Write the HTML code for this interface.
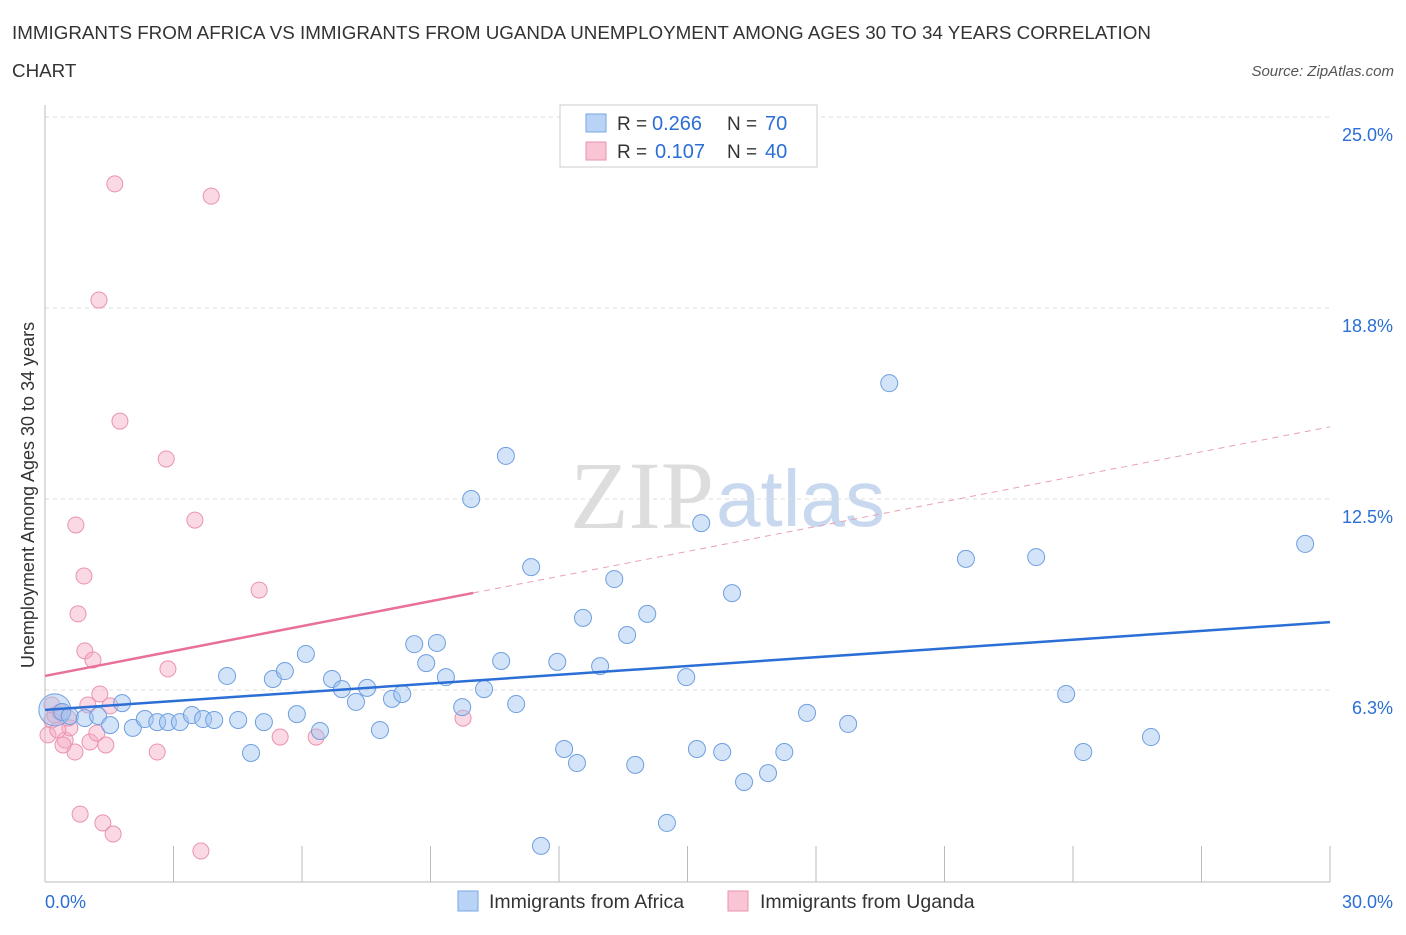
<!DOCTYPE html>
<html><head><meta charset="utf-8"><style>
body{margin:0;background:#fff;font-family:"Liberation Sans",sans-serif}
svg text{font-family:"Liberation Sans",sans-serif}
</style></head><body>
<svg id="c" width="1406" height="930" xmlns="http://www.w3.org/2000/svg">
<text x="12" y="39" font-size="18.8" fill="#333">IMMIGRANTS FROM AFRICA VS IMMIGRANTS FROM UGANDA UNEMPLOYMENT AMONG AGES 30 TO 34 YEARS CORRELATION</text>
<text x="12" y="77" font-size="18.8" fill="#333">CHART</text>
<text x="1394" y="76" font-size="15" fill="#555" font-style="italic" text-anchor="end">Source: ZipAtlas.com</text>
<text x="714" y="528" font-size="96" fill="#ddd" text-anchor="end" style="font-family:'Liberation Serif',serif">ZIP</text>
<text x="716" y="526" font-size="80" fill="#c8d8ee">atlas</text>
<text transform="translate(34,495) rotate(-90)" font-size="18" fill="#333" text-anchor="middle">Unemployment Among Ages 30 to 34 years</text>
<g id="grid"></g><g id="pts"></g><g id="lines"></g>
<g>
<rect x="560" y="105" width="257" height="62" fill="#fff" stroke="#ccc"/>
<rect x="586" y="114" width="20" height="18" fill="#b8d3f5" stroke="#7aa7e0"/>
<rect x="586" y="142" width="20" height="18" fill="#f9c5d5" stroke="#ea93ae"/>
<text x="617" y="130" font-size="19" fill="#333">R =</text>
<text x="652" y="130" font-size="20" fill="#2b6fd6">0.266</text>
<text x="727" y="130" font-size="19" fill="#333">N =</text>
<text x="765" y="130" font-size="20" fill="#2b6fd6">70</text>
<text x="617" y="158" font-size="19" fill="#333">R =</text>
<text x="655" y="158" font-size="20" fill="#2b6fd6">0.107</text>
<text x="727" y="158" font-size="19" fill="#333">N =</text>
<text x="765" y="158" font-size="20" fill="#2b6fd6">40</text>
</g>
<g>
<rect x="458" y="891" width="20" height="20" fill="#b8d3f5" stroke="#7aa7e0"/>
<text x="489" y="908" font-size="19.5" fill="#333">Immigrants from Africa</text>
<rect x="728" y="891" width="20" height="20" fill="#f9c5d5" stroke="#ea93ae"/>
<text x="760" y="908" font-size="19.5" fill="#333">Immigrants from Uganda</text>
</g>
</svg>
<script>
const yTicks=[6.25,12.5,18.75,25];
const yTickLabels=["6.3%","12.5%","18.8%","25.0%"];
const xTickLabels=["0.0%","30.0%"];
const africaX=[.23,.40,.58,.93,1.24,1.52,1.80,2.05,2.33,2.62,2.87,3.15,3.43,3.69,3.95,4.25,4.51,4.81,5.11,5.32,5.60,5.88,6.09,6.42,6.70,6.93,7.26,7.52,7.82,8.10,8.34,8.62,8.90,9.15,9.36,9.74,9.95,10.25,10.65,10.76,11.00,11.35,11.58,11.96,12.12,12.42,12.56,12.96,13.29,13.59,13.78,14.06,14.52,14.97,15.22,15.32,15.81,16.04,16.32,16.88,17.26,17.79,18.75,19.71,21.50,23.14,23.84,24.24,25.82,29.42];
const africaY=[5.60,5.53,5.40,5.33,5.40,5.10,5.82,5.01,5.30,5.20,5.20,5.20,5.43,5.30,5.27,6.71,5.27,4.19,5.20,6.61,6.87,5.46,7.43,4.91,6.61,6.28,5.86,6.32,4.94,5.96,6.12,7.75,7.13,7.79,6.67,5.69,12.50,6.28,7.20,13.91,5.79,10.27,1.15,7.17,4.32,3.86,8.61,7.03,9.88,8.05,3.80,8.74,1.90,6.67,4.32,11.71,4.22,9.42,3.24,3.53,4.22,5.50,5.14,16.29,10.54,10.60,6.12,4.22,4.71,11.03];
const ugandaX=[.07,.16,.23,.35,.47,.58,.70,.72,.82,.91,.93,1.05,1.12,1.21,1.26,1.28,1.35,1.42,1.52,1.59,1.63,1.75,2.62,2.83,2.87,3.50,3.64,3.88,5.00,5.49,6.33,9.76,.77,.42,.30,.54,1.00,.16];
const ugandaY=[4.78,5.27,5.43,5.53,4.61,5.01,4.22,11.65,2.19,9.98,7.53,4.55,7.23,4.84,19.01,6.12,1.90,4.45,5.73,1.54,22.81,15.05,4.22,13.81,6.94,11.81,0.98,22.41,9.52,4.71,4.71,5.33,8.74,4.45,4.94,5.33,5.76,5.76];
const africaTrend=[5.6,8.47];
const ugandaTrend=[6.71,14.86];
const NS="http://www.w3.org/2000/svg";
const X=v=>45+v*(1285/30), Y=v=>881-v*30.56;
function mk(t,a,p){const e=document.createElementNS(NS,t);for(const k in a)e.setAttribute(k,a[k]);p.appendChild(e);return e;}
const g=document.getElementById('grid');
yTicks.forEach((t,i)=>{
 const l=mk('line',{x1:45,x2:1330,y1:Y(t),y2:Y(t),stroke:'#ddd','stroke-dasharray':'4,4'},g);
 
 
 const tx=mk('text',{x:1393,y:Y(t)+24,'font-size':18,fill:'#2b6fd6','text-anchor':'end'},g);tx.textContent=yTickLabels[i];
 
 
});
const topLine=mk('line',{x1:45,x2:1330,y1:117,y2:117,stroke:'#ddd','stroke-dasharray':'4,4'},g);


const ax=mk('line',{x1:45,x2:1330,y1:882,y2:882,stroke:'#bbb'},g);


const ay=mk('line',{x1:45,x2:45,y1:105,y2:882,stroke:'#bbb'},g);


for(let i=1;i<=10;i++){const t=mk('line',{x1:X(i*3),x2:X(i*3),y1:846,y2:882,stroke:'#bbb'},g);
 
 }
[[0,'start',45],[30,'end',1393]].forEach((d,i)=>{const t=mk('text',{x:d[2],y:908,'font-size':18,fill:'#2b6fd6','text-anchor':d[1]},g);t.textContent=xTickLabels[i];
 
 });
const p=document.getElementById('pts');
ugandaX.forEach((x,i)=>{const c=mk('circle',{cx:X(x),cy:Y(ugandaY[i]),r:8,fill:'rgba(246,170,195,0.45)',stroke:'#ea93ae','stroke-width':1},p);
 
 });
africaX.forEach((x,i)=>{const c=mk('circle',{cx:X(x),cy:Y(africaY[i]),r:i==0?16:8.5,fill:'rgba(160,195,240,0.45)',stroke:'#6e9fe0','stroke-width':1},p);
 
 });
const L=document.getElementById('lines');
const b=mk('line',{x1:X(0),y1:Y(africaTrend[0]),x2:X(30),y2:Y(africaTrend[1]),stroke:'#2b6fd6','stroke-width':2.5},L);


const uy=x=>ugandaTrend[0]+(ugandaTrend[1]-ugandaTrend[0])*x/30;
const u1=mk('line',{x1:X(0),y1:Y(uy(0)),x2:X(10),y2:Y(uy(10)),stroke:'#e8709a','stroke-width':2.5},L);


const u2=mk('line',{x1:X(10),y1:Y(uy(10)),x2:X(30),y2:Y(uy(30)),stroke:'#e8a0b8','stroke-width':1,'stroke-dasharray':'6,5'},L);


</script>
</body></html>
